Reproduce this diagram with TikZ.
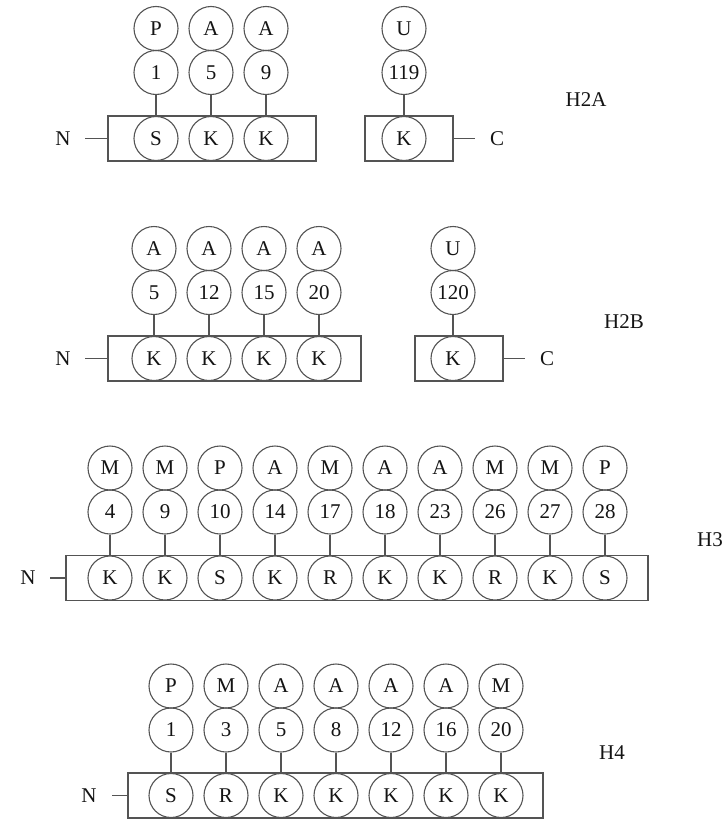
\documentclass[tikz,border=0pt]{standalone}
\usepackage{fontspec}
\setmainfont{Liberation Serif}
\definecolor{linegray}{gray}{0.33}
\definecolor{inkgray}{gray}{0.08}
\begin{document}
\begin{tikzpicture}[x=1pt,y=-1pt,
  site/.style={circle,draw=linegray,line width=1.1pt,minimum size=44pt,inner sep=0pt,
    text=inkgray,font=\fontsize{21}{25}\selectfont},
  chainbox/.style={draw=linegray,line width=1.1pt,inner sep=0pt,minimum height=45pt},
  link/.style={draw=linegray,line width=1.1pt},
  lbl/.style={inner sep=0pt,text=inkgray,font=\fontsize{21}{25}\selectfont}]
\useasboundingbox (0,0) rectangle (725,819);

% one modification site: mark, position, residue and stem
% #1 prefix, #2 index, #3 x, #4 y of mark, #5 y of residue, #6 mark, #7 position, #8 residue
\newcommand{\modsite}[8]{%
  \node[site] (#1-m#2) at (#3,#4) {#6};
  \node[site] (#1-n#2) at (#3,#4+44) {#7};
  \node[site] (#1-r#2) at (#3,#5) {#8};
  \draw[link] (#1-n#2) -- (#1-r#2);
}

% ---------------- H2A ----------------
\node[chainbox,minimum width=208pt] (a-box) at (212,138.5) {};
\node[chainbox,minimum width=88pt] (a-boxc) at (409,138.5) {};
\node[lbl] (a-N) at (63,138.5) {N};
\coordinate (a-Nend) at (85,138.5);
\draw[link] (a-Nend) -- (a-box.west);
\node[lbl] (a-C) at (497,138.5) {C};
\coordinate (a-Cend) at (475,138.5);
\draw[link] (a-boxc.east) -- (a-Cend);
\foreach \m/\n/\r [count=\i from 0] in {P/1/S, A/5/K, A/9/K}{
  \pgfmathsetmacro\xx{156+55*\i}
  \modsite{a}{\i}{\xx}{28.5}{138.5}{\m}{\n}{\r}
}
\modsite{a}{c}{404}{28.5}{138.5}{U}{119}{K}
\node[lbl] (a-name) at (586,100) {H2A};

% ---------------- H2B ----------------
\node[chainbox,minimum width=253pt] (b-box) at (234.5,358.5) {};
\node[chainbox,minimum width=88pt] (b-boxc) at (459,358.5) {};
\node[lbl] (b-N) at (63,358.5) {N};
\coordinate (b-Nend) at (85,358.5);
\draw[link] (b-Nend) -- (b-box.west);
\node[lbl] (b-C) at (547,358.5) {C};
\coordinate (b-Cend) at (525,358.5);
\draw[link] (b-boxc.east) -- (b-Cend);
\foreach \m/\n/\r [count=\i from 0] in {A/5/K, A/12/K, A/15/K, A/20/K}{
  \pgfmathsetmacro\xx{154+55*\i}
  \modsite{b}{\i}{\xx}{248.5}{358.5}{\m}{\n}{\r}
}
\modsite{b}{c}{453}{248.5}{358.5}{U}{120}{K}
\node[lbl] (b-name) at (624,322) {H2B};

% ---------------- H3 ----------------
\node[chainbox,minimum width=582pt] (c-box) at (357,578) {};
\node[lbl] (c-N) at (28,578) {N};
\coordinate (c-Nend) at (50,578);
\draw[link] (c-Nend) -- (c-box.west);
\foreach \m/\n/\r [count=\i from 0] in {M/4/K, M/9/K, P/10/S, A/14/K, M/17/R,
    A/18/K, A/23/K, M/26/R, M/27/K, P/28/S}{
  \pgfmathsetmacro\xx{110+55*\i}
  \modsite{c}{\i}{\xx}{468}{578}{\m}{\n}{\r}
}
\node[lbl] (c-name) at (710,540) {H3};

% ---------------- H4 ----------------
\node[chainbox,minimum width=415pt] (d-box) at (335.5,795.5) {};
\node[lbl] (d-N) at (89,795.5) {N};
\coordinate (d-Nend) at (112,795.5);
\draw[link] (d-Nend) -- (d-box.west);
\foreach \m/\n/\r [count=\i from 0] in {P/1/S, M/3/R, A/5/K, A/8/K, A/12/K, A/16/K, M/20/K}{
  \pgfmathsetmacro\xx{171+55*\i}
  \modsite{d}{\i}{\xx}{686}{795.5}{\m}{\n}{\r}
}
\node[lbl] (d-name) at (612,753) {H4};
\end{tikzpicture}
\end{document}
